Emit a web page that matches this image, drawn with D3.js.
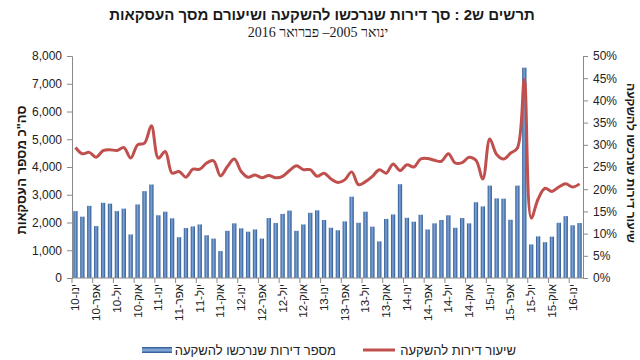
<!DOCTYPE html>
<html><head><meta charset="utf-8">
<script src="https://cdn.jsdelivr.net/npm/d3@7"></script>
<style>
html,body{margin:0;padding:0;background:#fff;}
svg{display:block;font-family:"Liberation Sans",Arial,sans-serif;}
.vis{unicode-bidi:bidi-override;direction:ltr;}
</style></head>
<body><div id="chart"></div>
<script>
const monthNames = ["ינו","פבר","מרץ","אפר","מאי","יונ","יול","אוג","ספט","אוק","נוב","דצמ"];
const years = ["10","11","12","13","14","15","16"];
const categories = [];
years.forEach(y => monthNames.forEach(m => categories.push(m + "-" + y)));
categories.length = 74; // Jan-10 .. Feb-16

const purchases = [2410,2210,2600,1870,2710,2680,2410,2500,1570,2650,3130,3370,
  2260,2390,2150,1470,1800,1860,1930,1540,1420,970,1700,1970,
  1790,1670,1750,1420,2160,1980,2310,2430,1700,1930,2350,2440,
  2090,1810,1720,2040,2930,1990,2390,1850,1320,2130,2290,3380,
  2170,2030,2280,1750,1970,2090,2260,1810,2160,1970,2730,2580,
  3330,2870,2860,2100,3330,7580,1210,1500,1290,1490,1990,2230,
  1900,1980];
const rates = [29.4,28.0,28.3,27.2,28.7,28.9,28.7,29.4,27.0,30.0,30.4,34.3,
  27.0,28.5,23.6,24.0,22.7,24.5,24.5,25.9,26.4,23.0,25.1,26.8,
  24.0,22.7,23.2,22.6,23.1,22.6,22.9,24.2,25.3,24.4,24.4,22.9,
  23.6,22.3,21.5,22.1,23.9,21.0,21.7,22.9,24.4,23.6,25.7,24.2,
  25.5,25.0,26.8,26.9,26.5,26.3,28.0,25.9,26.0,27.2,26.5,22.3,
  31.3,27.8,26.8,28.1,29.3,44.7,13.5,17.8,20.2,19.5,20.5,21.2,
  20.5,21.2];
const leftTicks = [0,1000,2000,3000,4000,5000,6000,7000,8000];
const rightTicks = [0,5,10,15,20,25,30,35,40,45,50];

const titleText = "תרשים ש2 : סך דירות שנרכשו להשקעה ושיעורם מסך העסקאות";
const subtitleText = "ינואר 2005– פברואר 2016";
const leftTitle = "סה\"כ מספר העסקאות";
const rightTitle = "שיעור דירות שנרכשו להשקעה";
const legendBars = "מספר דירות שנרכשו להשקעה";
const legendLine = "שיעור דירות להשקעה";

const RLE = "\u202B", PDF = "\u202C";
const rtl = s => RLE + s + PDF;
const visLabel = s => { const [mo, yr] = s.split("-"); return yr + "-" + Array.from(mo).reverse().join(""); };

const W = 640, H = 360;
const m = {left:72, right:57, top:56, bottom:82};
const svg = d3.select("#chart").append("svg").attr("width", W).attr("height", H);

const x = d3.scaleBand().domain(categories).range([m.left, W - m.right]).paddingInner(0.38).paddingOuter(0.19);
const y = d3.scaleLinear().domain([0, 8000]).range([H - m.bottom, m.top]);
const y2 = d3.scaleLinear().domain([0, 50]).range([H - m.bottom, m.top]);

const defs = svg.append("defs");
const grad = defs.append("linearGradient").attr("id","barGrad").attr("x1","0").attr("x2","1").attr("y1","0").attr("y2","0");
grad.append("stop").attr("offset","0%").attr("stop-color","#2b5590");
grad.append("stop").attr("offset","45%").attr("stop-color","#7da6d8");
grad.append("stop").attr("offset","100%").attr("stop-color","#2b5590");
const gradL = defs.append("linearGradient").attr("id","legGrad").attr("x1","0").attr("x2","0").attr("y1","0").attr("y2","1");
gradL.append("stop").attr("offset","0%").attr("stop-color","#2b5590");
gradL.append("stop").attr("offset","50%").attr("stop-color","#8db3e2");
gradL.append("stop").attr("offset","100%").attr("stop-color","#2b5590");

// Title
svg.append("text").attr("x", 322).attr("y", 20).attr("text-anchor","middle")
  .attr("font-size", 15).attr("font-weight","bold").attr("fill","#1a1a1a").text(rtl(titleText));
svg.append("text").attr("x", 318).attr("y", 37).attr("text-anchor","middle")
  .attr("font-family","'Liberation Serif','Times New Roman',serif")
  .attr("font-size", 14).attr("fill","#1a1a1a").text(rtl(subtitleText));

// Bars
svg.append("g").selectAll("rect").data(purchases).join("rect")
  .attr("x", (d,i) => x(categories[i]))
  .attr("width", x.bandwidth())
  .attr("y", d => y(d))
  .attr("height", d => y(0) - y(d))
  .attr("fill", "url(#barGrad)");

// Line
const line = d3.line().x((d,i) => x(categories[i]) + x.bandwidth()/2).y(d => y2(d)).curve(d3.curveCatmullRom.alpha(0.5));
svg.append("path").datum(rates).attr("d", line).attr("fill","none")
  .attr("stroke","#c0504d").attr("stroke-width",3).attr("stroke-linejoin","round");

const axisColor = "#8a8a8a";
const gl = svg.append("g").attr("transform", `translate(${m.left},0)`)
  .call(d3.axisLeft(y).tickValues(leftTicks).tickSize(5).tickPadding(5).tickFormat(d3.format(",")));
const gr = svg.append("g").attr("transform", `translate(${W - m.right},0)`)
  .call(d3.axisRight(y2).tickValues(rightTicks).tickSize(5).tickPadding(5).tickFormat(d => d + "%"));
[gl, gr].forEach(g => {
  g.select(".domain").attr("stroke", axisColor);
  g.selectAll(".tick line").attr("stroke", axisColor);
  g.selectAll(".tick text").attr("font-size", 12).attr("fill","#222").attr("font-family","'Liberation Sans',Arial,sans-serif");
});

// Bottom axis
const xb = svg.append("g").attr("transform", `translate(0,${H - m.bottom})`);
xb.append("line").attr("x1", m.left).attr("x2", W - m.right).attr("stroke", axisColor);
const step = x.step();
const tickIdx = d3.range(0, categories.length + 1, 3);
xb.selectAll("line.t").data(tickIdx).join("line").attr("class","t")
  .attr("x1", i => m.left + i*step)
  .attr("x2", i => m.left + i*step)
  .attr("y1", 0).attr("y2", 5).attr("stroke", axisColor);
const labelIdx = d3.range(0, categories.length, 3);
xb.selectAll("text").data(labelIdx).join("text")
  .attr("class","vis")
  .attr("transform", i => `translate(${x(categories[i]) + x.bandwidth()/2 + 4},6) rotate(-90)`)
  .attr("text-anchor","end").attr("font-size", 11.5).attr("fill","#222")
  .text(i => visLabel(categories[i]));

// Axis titles
svg.append("text").attr("transform","translate(26,170) rotate(-90)").attr("text-anchor","middle")
  .attr("font-size", 13).attr("font-weight","bold").attr("fill","#1a1a1a").text(rtl(leftTitle));
svg.append("text").attr("transform","translate(627,163) rotate(90)").attr("text-anchor","middle")
  .attr("dy","0.0em")
  .attr("font-size", 12).attr("font-weight","bold").attr("fill","#1a1a1a").text(rtl(rightTitle));

// Legend
const lg = svg.append("g");
lg.append("rect").attr("x",142).attr("y",347).attr("width",30).attr("height",6).attr("fill","url(#legGrad)");
lg.append("text").attr("x",336).attr("y",355).attr("text-anchor","end").attr("font-size",13).attr("fill","#222").text(rtl(legendBars));
lg.append("line").attr("x1",363).attr("x2",395).attr("y1",350).attr("y2",350).attr("stroke","#c0504d").attr("stroke-width",3);
lg.append("text").attr("x",516).attr("y",355).attr("text-anchor","end").attr("font-size",13).attr("fill","#222").text(rtl(legendLine));
</script></body></html>
